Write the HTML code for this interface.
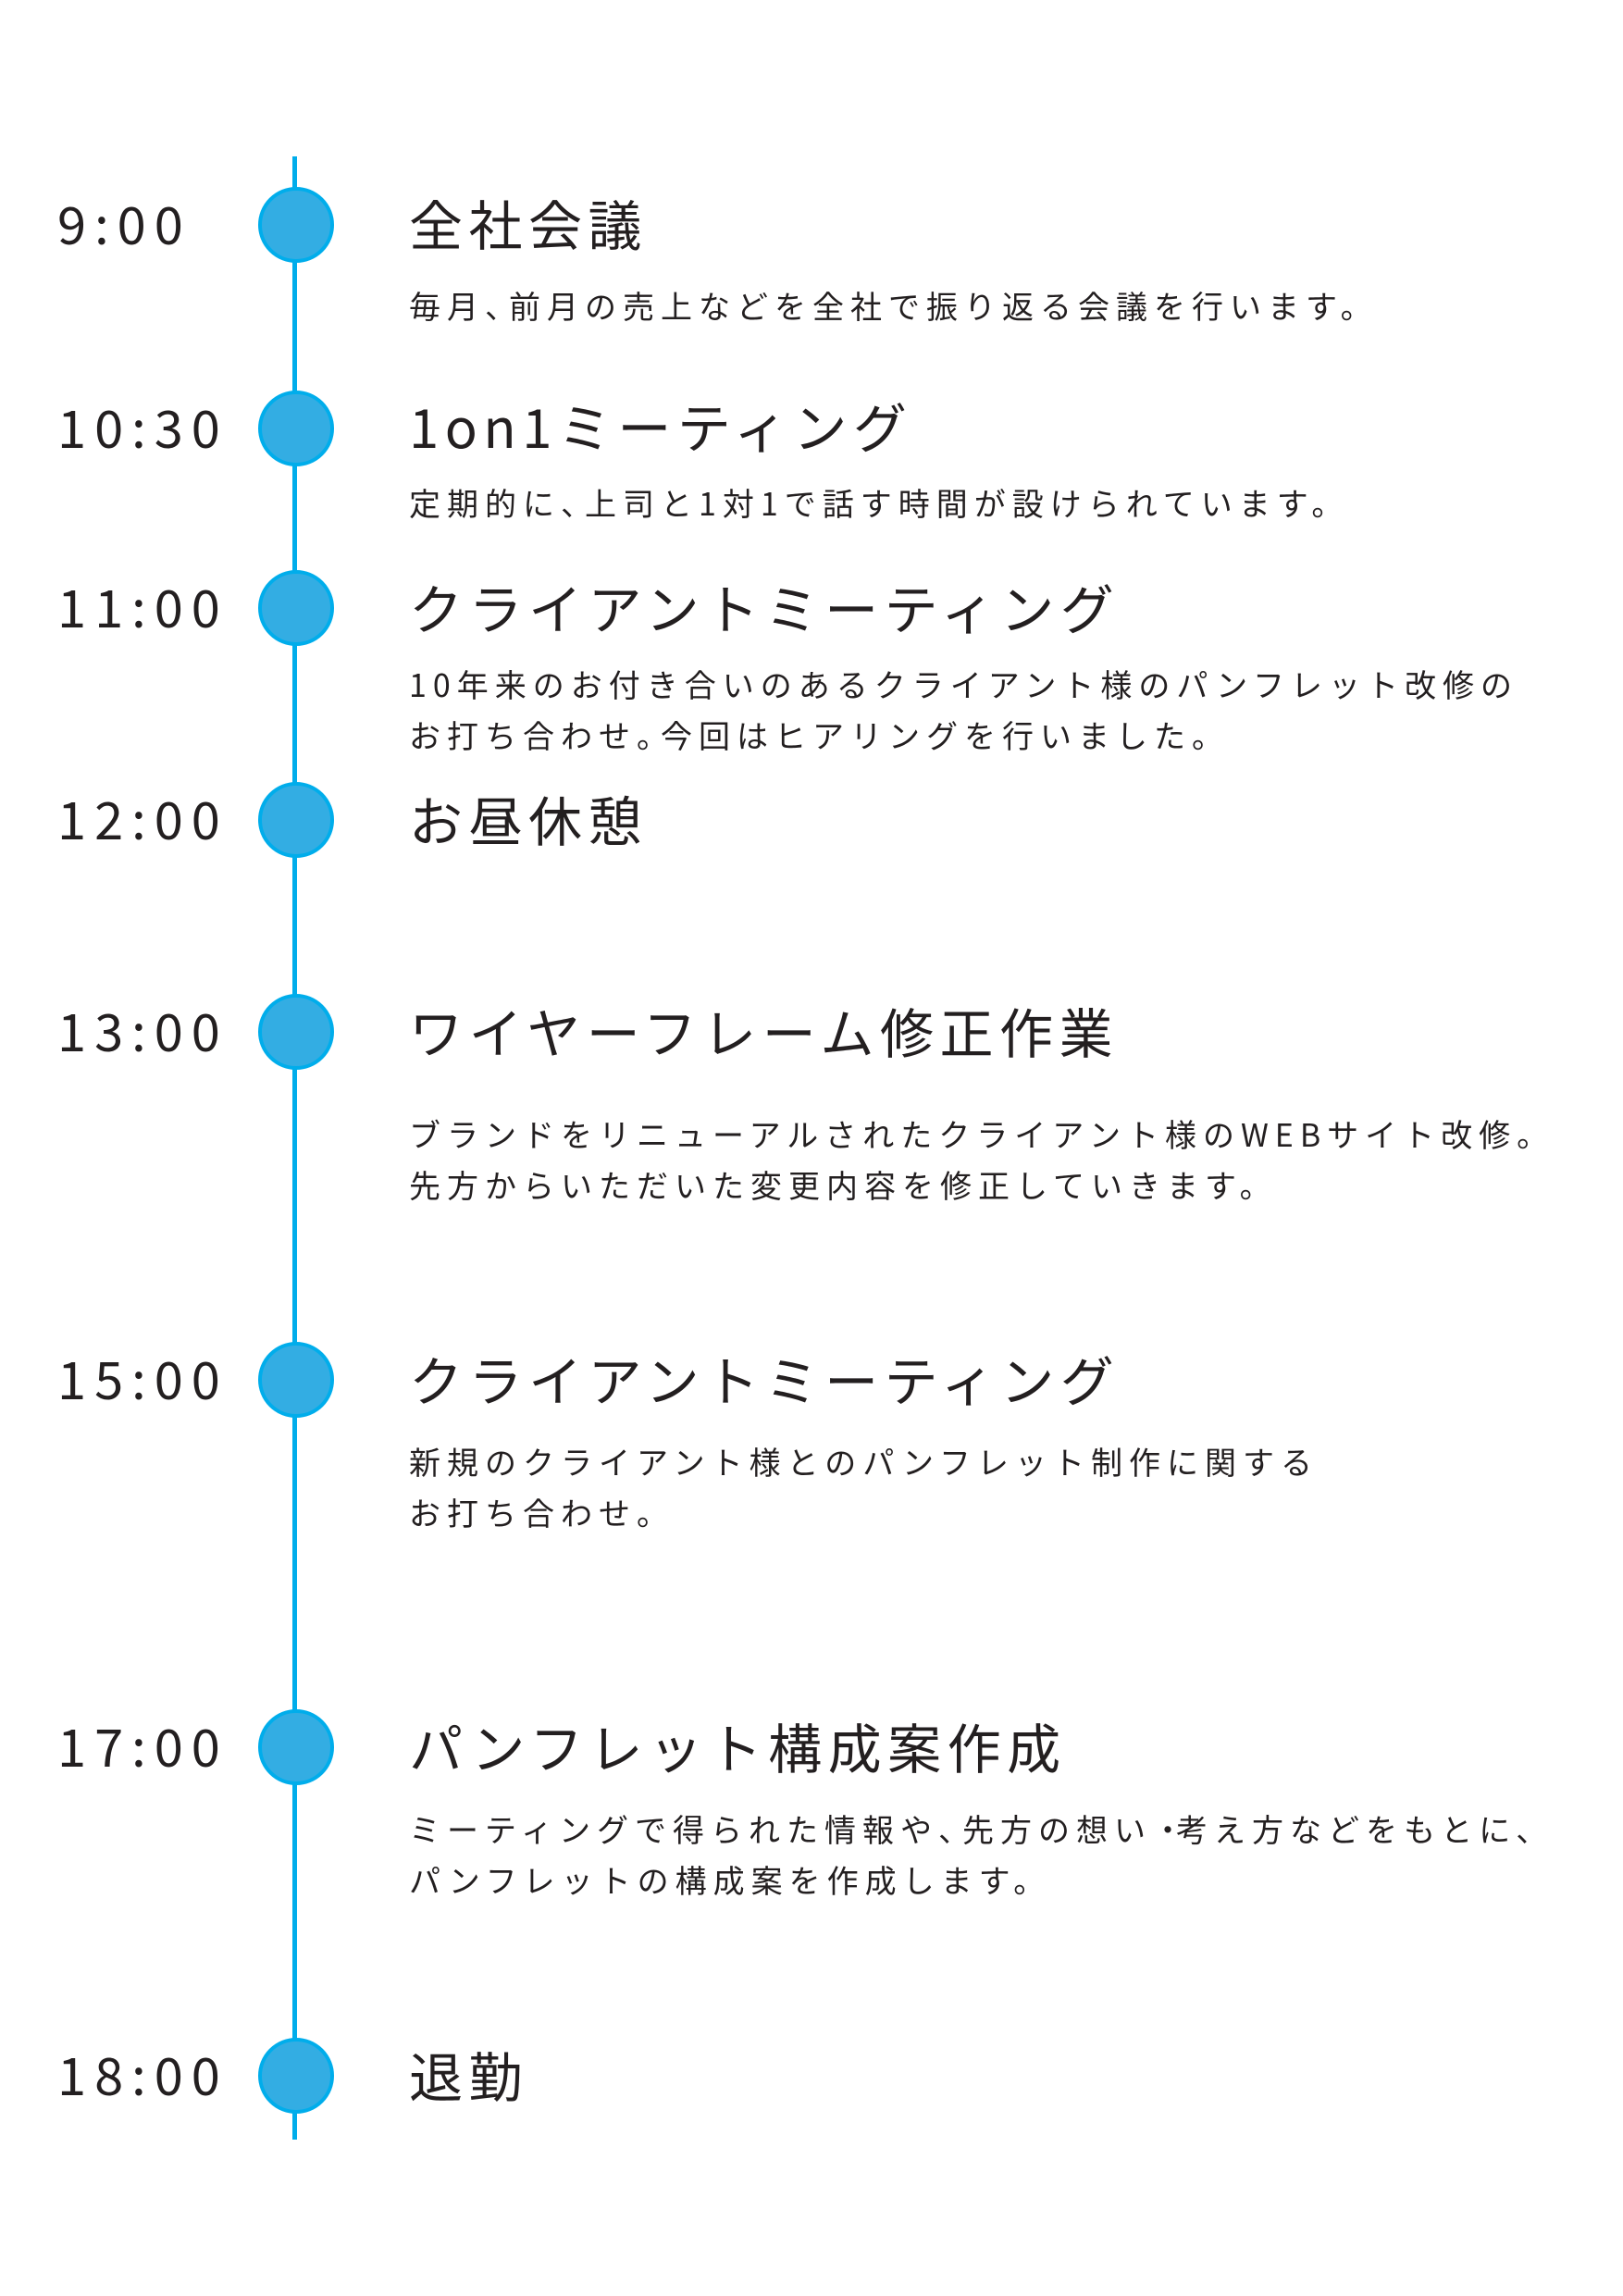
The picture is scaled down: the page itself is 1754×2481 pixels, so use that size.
<!DOCTYPE html>
<html><head><meta charset="utf-8"><style>
html,body{margin:0;padding:0;background:#fff;}
body{width:1754px;height:2481px;position:relative;overflow:hidden;font-family:"Liberation Sans","Noto Sans CJK JP",sans-serif;color:#231f20;}
.line{position:absolute;left:316px;top:169px;width:5px;height:2143px;background:#00adeb;}
.dot{position:absolute;left:279px;width:74px;height:74px;border:4px solid #00adeb;background:#33ade3;border-radius:50%;}
.t{position:absolute;left:62px;font-size:56px;line-height:56px;letter-spacing:9px;font-family:"Noto Sans CJK JP",sans-serif;font-weight:400;}
.h{position:absolute;left:442px;font-size:58px;line-height:58px;letter-spacing:6.5px;font-family:"Noto Sans CJK JP",sans-serif;white-space:nowrap;}
.d{position:absolute;left:442px;font-size:34px;line-height:55px;letter-spacing:7px;font-family:"Noto Sans CJK JP",sans-serif;white-space:nowrap;}
.p{letter-spacing:-8px;}
</style></head><body>
<div class="line"></div>

<div class="dot" style="top:202px"></div><div class="t" style="top:213px">9:00</div><div class="h" style="top:211px">全社会議</div>
<div class="d" style="top:302px">毎月<span class="p">、</span>前月の売上などを全社で振り返る会議を行います。</div>

<div class="dot" style="top:422px"></div><div class="t" style="top:433px">10:30</div><div class="h" style="top:430px">1on1ミーティング</div>
<div class="d" style="top:515px">定期的に<span class="p">、</span>上司と1対1で話す時間が設けられています。</div>

<div class="dot" style="top:616px"></div><div class="t" style="top:627px">11:00</div><div class="h" style="top:626px">クライアントミーティング</div>
<div class="d" style="top:711px">10年来のお付き合いのあるクライアント様のパンフレット改修の<br>お打ち合わせ<span class="p">。</span>今回はヒアリングを行いました。</div>

<div class="dot" style="top:845px"></div><div class="t" style="top:856px">12:00</div><div class="h" style="top:855px">お昼休憩</div>

<div class="dot" style="top:1074px"></div><div class="t" style="top:1085px">13:00</div><div class="h" style="top:1084px">ワイヤーフレーム修正作業</div>
<div class="d" style="top:1197px">ブランドをリニューアルされたクライアント様のWEBサイト改修。<br>先方からいただいた変更内容を修正していきます。</div>

<div class="dot" style="top:1450px"></div><div class="t" style="top:1461px">15:00</div><div class="h" style="top:1460px">クライアントミーティング</div>
<div class="d" style="top:1551px">新規のクライアント様とのパンフレット制作に関する<br>お打ち合わせ。</div>

<div class="dot" style="top:1847px"></div><div class="t" style="top:1858px">17:00</div><div class="h" style="top:1857px">パンフレット構成案作成</div>
<div class="d" style="top:1948px">ミーティングで得られた情報や<span class="p">、</span>先方の想い<span class="p">・</span>考え方などをもとに、<br>パンフレットの構成案を作成します。</div>

<div class="dot" style="top:2202px"></div><div class="t" style="top:2213px">18:00</div><div class="h" style="top:2212px">退勤</div>
</body></html>
